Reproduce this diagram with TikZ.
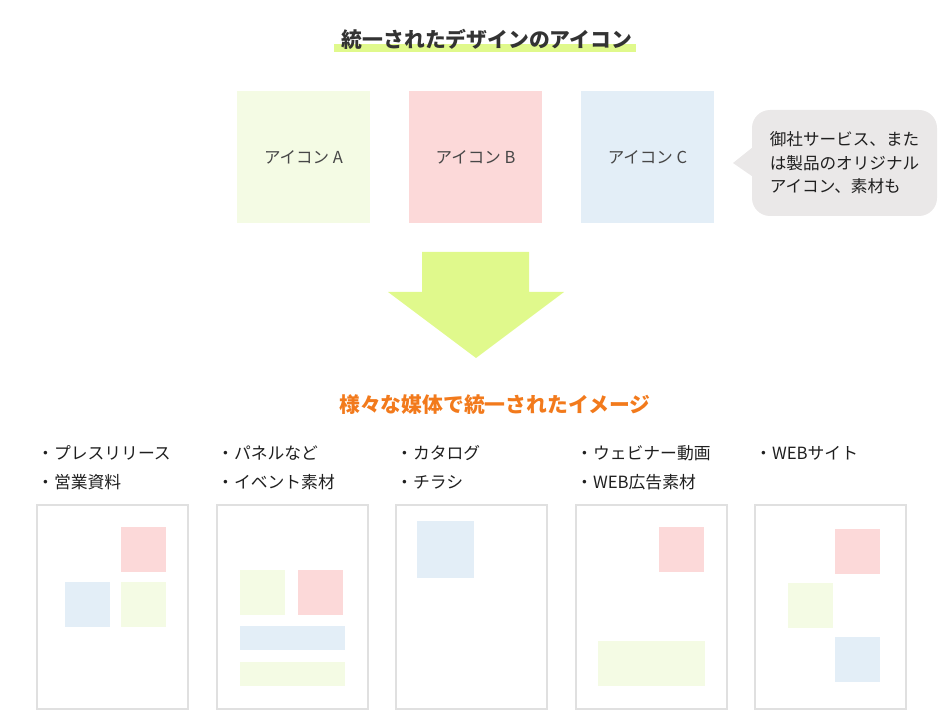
\documentclass[tikz,border=0pt]{standalone}
\usepackage{fontspec}
\setmainfont{Noto Sans CJK JP}
\usetikzlibrary{positioning}
\definecolor{iconA}{HTML}{F4FBE4}
\definecolor{iconB}{HTML}{FCD9D9}
\definecolor{iconC}{HTML}{E3EEF7}
\definecolor{lime}{HTML}{E0F98C}
\definecolor{bubble}{HTML}{EAE8E8}
\definecolor{frame}{HTML}{E0E0E0}
\definecolor{accent}{HTML}{F27A1C}
\definecolor{ink}{HTML}{333333}

\begin{document}
\begin{tikzpicture}[x=1pt,y=-1pt,
    iconbox/.style={minimum width=133pt,minimum height=132pt,inner sep=0pt,font=\fontsize{16.5}{19}\selectfont,text=ink!90},
    pagebox/.style={draw=frame,line width=1.5pt,minimum width=151pt,minimum height=204pt,inner sep=0pt},
    bullet/.style={anchor=west,inner sep=0pt,font=\fontsize{16.8}{19}\selectfont,text=black!88},
    heading/.style={inner sep=0pt,font=\fontsize{20.8}{24}\selectfont\bfseries}]
    \useasboundingbox (0,0) rectangle (940,727);

    % title
    \fill[lime] (334,44.5) rectangle (636,52.5);
    \node[heading,text=ink] (title) at (487,39) {統一されたデザインのアイコン};

    % icons
    \node[iconbox,fill=iconA] (iconA) at (303.5,157) {アイコン A};
    \node[iconbox,fill=iconB] (iconB) at (475.5,157) {アイコン B};
    \node[iconbox,fill=iconC] (iconC) at (647.5,157) {アイコン C};

    % note
    \node[fill=bubble,rounded corners=18pt,minimum width=185pt,minimum height=106pt,
          align=left,inner sep=0pt,font=\fontsize{16.6}{23.5}\selectfont,text=black!88] (note) at (844.5,163)
          {御社サービス、また\\は製品のオリジナル\\アイコン、素材も};
    \coordinate (tip) at (733,163);
    \fill[bubble] (tip) -- ([yshift=-13pt]note.west) -- ([yshift=15pt]note.west) -- cycle;

    % arrow
    \fill[lime] (422,252) -- (529,252) -- (529,292) -- (564,292) -- (476,358)
        -- (388,292) -- (422,292) -- cycle;

    \node[heading,text=accent] (media) at (495,405) {様々な媒体で統一されたイメージ};

    % media columns
    \foreach \i/\px/\la/\lb in {1/37/プレスリリース/営業資料,2/217/パネルなど/イベント素材,
        3/396/カタログ/チラシ,4/576/ウェビナー動画/WEB広告素材,5/755/WEBサイト/}{
        \node[bullet] (top\i) at (\px,453) {・\la};
        \ifx\lb\empty\else\node[bullet] (bot\i) at (\px,482) {・\lb};\fi
        \node[pagebox] (page\i) at (\px+75.5,607) {};
    }

    % page 1
    \fill[iconB] (121,527) rectangle +(45,45);
    \fill[iconC] (65,582) rectangle +(45,45);
    \fill[iconA] (121,582) rectangle +(45,45);
    % page 2
    \fill[iconA] (240,570) rectangle +(45,45);
    \fill[iconB] (298,570) rectangle +(45,45);
    \fill[iconC] (240,626) rectangle (345,650);
    \fill[iconA] (240,662) rectangle (345,686);
    % page 3
    \fill[iconC] (417,521) rectangle +(57,57);
    % page 4
    \fill[iconB] (659,527) rectangle +(45,45);
    \fill[iconA] (598,641) rectangle (705,686);
    % page 5
    \fill[iconB] (835,529) rectangle +(45,45);
    \fill[iconA] (788,583) rectangle +(45,45);
    \fill[iconC] (835,637) rectangle +(45,45);
\end{tikzpicture}
\end{document}
